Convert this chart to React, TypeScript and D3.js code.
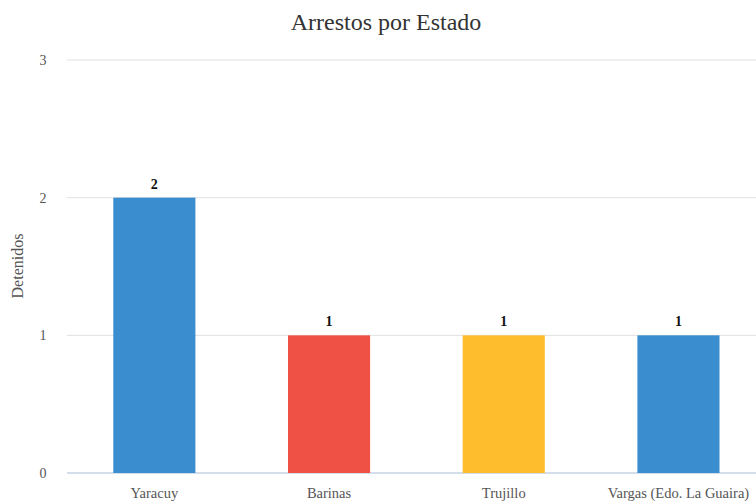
import React from "react";
import * as d3 from "d3";

const categories = ["Yaracuy", "Barinas", "Trujillo", "Vargas (Edo. La Guaira)"];
const values = [2, 1, 1, 1];
const colors = ["#3a8dce", "#f05145", "#fdbd2c", "#3a8dce"];
const yTicks = [0, 1, 2, 3];

export default function App() {
  const W = 756, H = 502;
  const x0 = 67, x1 = 765.8;
  const x = d3.scaleBand<string>().domain(categories).range([x0, x1]).padding(0);
  const y = d3.scaleLinear().domain([0, 3]).range([473, 60]);
  const barW = x.bandwidth() * 0.47;
  const font = "'Liberation Serif', 'Times New Roman', serif";
  return (
    <svg width={W} height={H} style={{ position: "absolute", left: 0, top: 0, background: "#fff" }}>
      <text x={386} y={30} textAnchor="middle" fontFamily={font} fontSize={24} fill="#333">Arrestos por Estado</text>
      <text transform={`translate(23,266) rotate(-90)`} textAnchor="middle" fontFamily={font} fontSize={16} fill="#555">Detenidos</text>
      {yTicks.map(t => (
        <g key={t}>
          <line x1={x0} x2={W} y1={y(t)} y2={y(t)} stroke={t === 0 ? "#c5d3e3" : "#e0e0e0"} strokeWidth={t === 0 ? 1.5 : 1} />
          <text x={43} y={y(t) + 5} textAnchor="middle" fontFamily={font} fontSize={14} fill="#555">{t}</text>
        </g>
      ))}
      {categories.map((c, i) => {
        const cx = (x(c) as number) + x.bandwidth() / 2;
        return (
          <g key={c}>
            <rect x={cx - barW / 2} y={y(values[i])} width={barW} height={y(0) - y(values[i])} fill={colors[i]} />
            <text x={cx} y={y(values[i]) - 9} textAnchor="middle" fontFamily={font} fontSize={14} fontWeight="bold" fill="#111">{values[i]}</text>
            <text x={cx} y={498} textAnchor="middle" fontFamily={font} fontSize={14.5} fill="#555">{c}</text>
          </g>
        );
      })}
    </svg>
  );
}
